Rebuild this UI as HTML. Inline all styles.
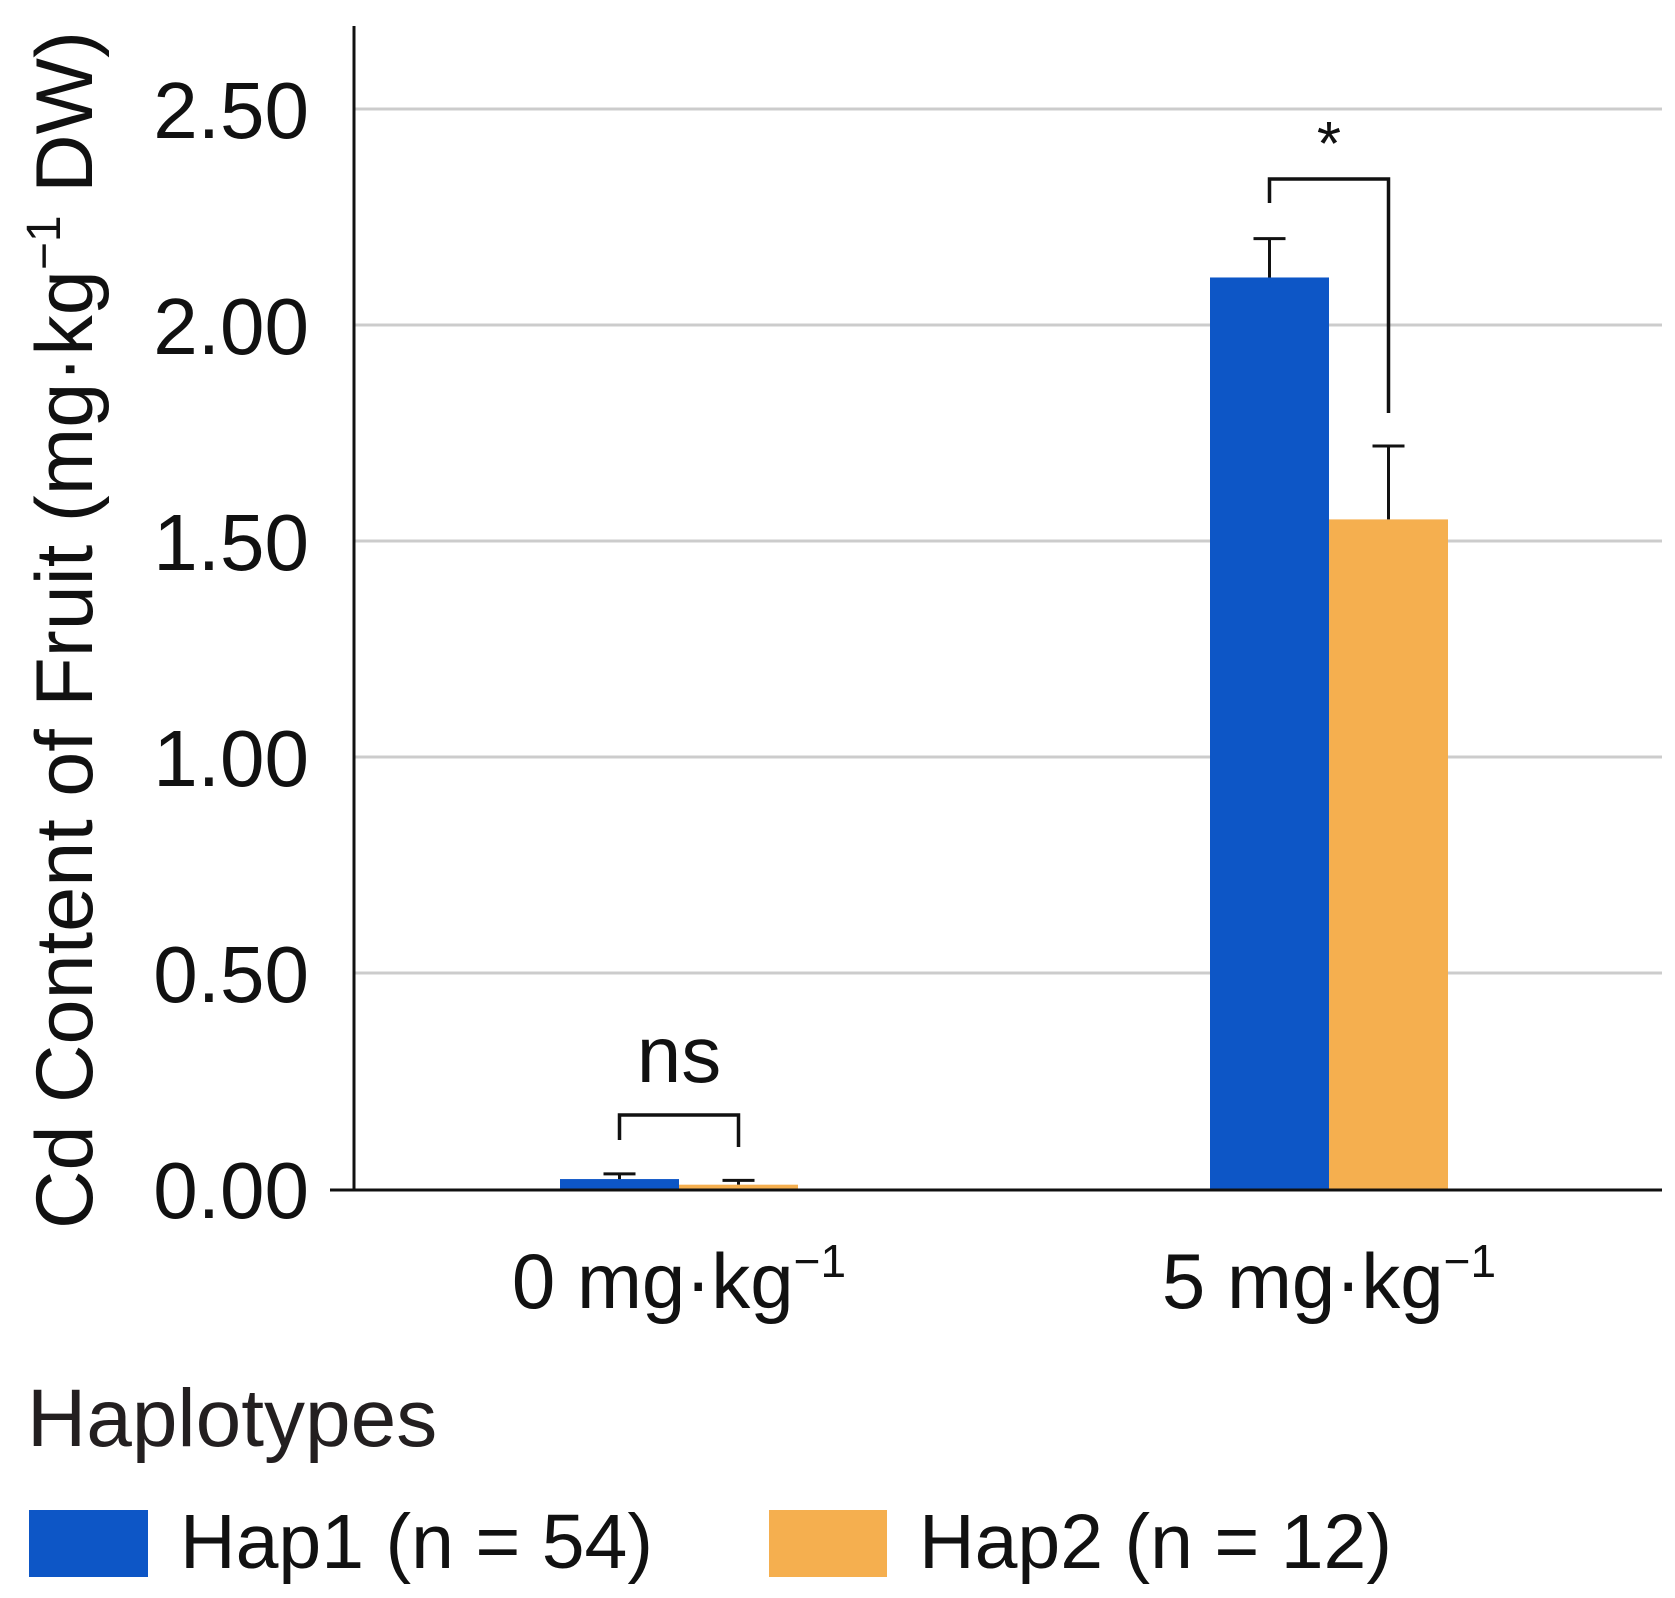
<!DOCTYPE html>
<html><head><meta charset="utf-8"><style>
html,body{margin:0;padding:0;background:#fff;}
svg{display:block;font-family:"Liberation Sans",Arial,sans-serif;}
</style></head><body>
<svg id="chart" width="1675" height="1598" viewBox="0 0 1675 1598">
<g id="grid"></g>
<g id="yticks"></g>
<g id="bars"></g>
<g id="errs"></g>
<line x1="354" y1="26" x2="354" y2="1190" stroke="#111" stroke-width="3"/>
<line x1="330" y1="1190" x2="1662" y2="1190" stroke="#111" stroke-width="3"/>
<g id="xlabels"></g>
<text transform="translate(92,630) rotate(-90)" text-anchor="middle" font-size="81" fill="#111">Cd Content of Fruit (mg·kg<tspan font-size="48" dy="-32">−1</tspan><tspan dy="32"> DW)</tspan></text>
<g id="sig"></g>
<text x="27" y="1446" font-size="82" fill="#231f20">Haplotypes</text>
<rect x="29" y="1510" width="119" height="67" fill="#0d56c6"/>
<text x="180" y="1568" font-size="77" fill="#111">Hap1 (n = 54)</text>
<rect x="769" y="1510" width="118" height="67" fill="#f5af4f"/>
<text x="919" y="1568" font-size="77" fill="#111">Hap2 (n = 12)</text>
</svg>
<script>
const categories = ["0 mg·kg", "5 mg·kg"];
const hap1Values = [0.023, 2.11];
const hap2Values = [0.010, 1.55];
const hap1Errors = [0.012, 0.09];
const hap2Errors = [0.010, 0.17];
const tickValues = [0, 0.5, 1, 1.5, 2, 2.5];
const tickLabels = ["0.00", "0.50", "1.00", "1.50", "2.00", "2.50"];
const sigLabels = ["ns", "*"];

const NS = "http://www.w3.org/2000/svg";
const y0 = 1189, pxPer = 432;
function yScale(v){ return y0 - v * pxPer; }
const groupLeft = [560, 1210], barW = 119;
function xBar(g, s){ return groupLeft[g] + s * barW; }
function mk(tag, attrs, parent){
  const e = document.createElementNS(NS, tag);
  for (const k in attrs) e.setAttribute(k, attrs[k]);
  parent.appendChild(e); return e;
}
const grid = document.getElementById('grid'), yt = document.getElementById('yticks');
tickValues.forEach((v, i) => {
  if (v > 0) {
    const l = mk('line', {x1: 354, x2: 1662, y1: yScale(v), y2: yScale(v), stroke: '#cccccc', 'stroke-width': 3}, grid);
    
    
  }
  const t = mk('text', {x: 309, y: yScale(v) + 29, 'text-anchor': 'end', 'font-size': 80, fill: '#111'}, yt);
  t.textContent = tickLabels[i];
  
  
});
const bars = document.getElementById('bars'), errs = document.getElementById('errs');
const series = [[hap1Values, hap1Errors, '#0d56c6'], [hap2Values, hap2Errors, '#f5af4f']];
categories.forEach((c, g) => {
  series.forEach((s, si) => {
    const v = s[0][g], e = s[1][g];
    const r = mk('rect', {x: xBar(g, si), y: yScale(v), width: barW, height: y0 - yScale(v), fill: s[2]}, bars);
    
    
    const cx = xBar(g, si) + barW / 2;
    const p = mk('path', {d: `M${cx},${yScale(v)} V${yScale(v + e)} M${cx - 16},${yScale(v + e)} H${cx + 16}`, stroke: '#111', 'stroke-width': 3, fill: 'none'}, errs);
    
    
  });
  const t = mk('text', {x: groupLeft[g] + barW, y: 1308, 'text-anchor': 'middle', 'font-size': 78, fill: '#111'}, document.getElementById('xlabels'));
  t.innerHTML = c + '<tspan font-size="46" dy="-31">−1</tspan>';
  
  
});
const sig = document.getElementById('sig');
const brTop = [1115, 179];
const legBot = [[1140, 1147], [203, 413]];
categories.forEach((c, g) => {
  const xl = xBar(g, 0) + barW / 2, xr = xBar(g, 1) + barW / 2;
  const p = mk('path', {d: `M${xl},${legBot[g][0]} V${brTop[g]} H${xr} V${legBot[g][1]}`, stroke: '#111', 'stroke-width': 3.5, fill: 'none'}, sig);
  
  
  const t = mk('text', {x: (xl + xr) / 2, y: g === 0 ? 1082 : 165, 'text-anchor': 'middle', 'font-size': g === 0 ? 80 : 62, fill: '#111'}, sig);
  t.textContent = sigLabels[g];
  
  
});
</script>
</body></html>
